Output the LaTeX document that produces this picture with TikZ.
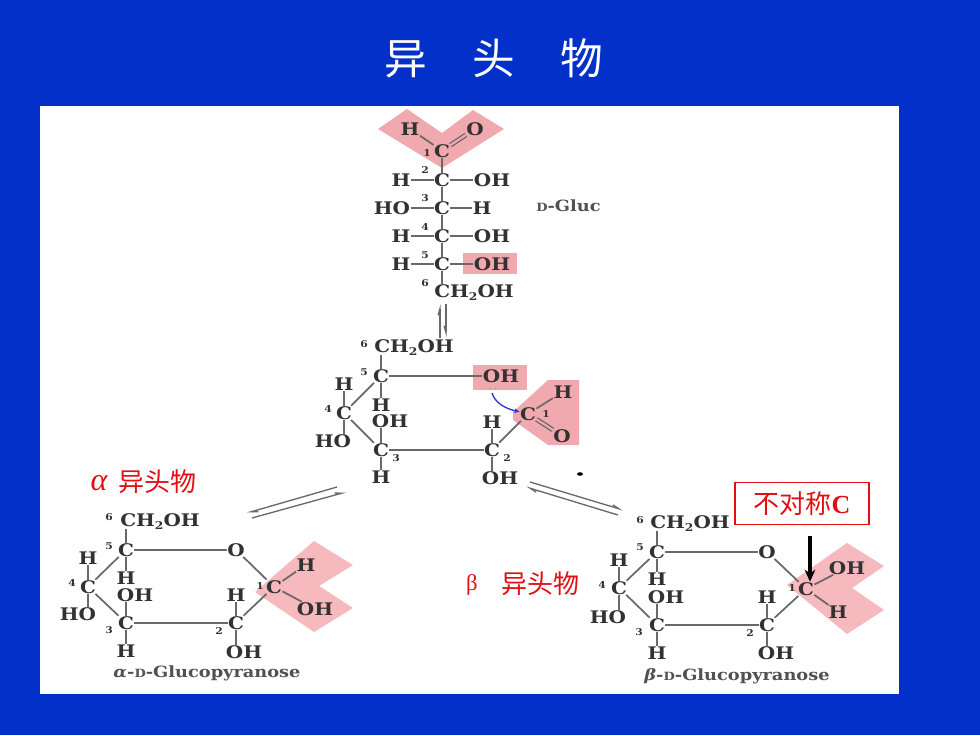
\documentclass[tikz,border=0pt]{standalone}
\usepackage{fontspec}
\usetikzlibrary{arrows.meta}
\newfontfamily\chemf[FakeStretch=1.15]{DejaVu Serif}
\newfontfamily\cjkf{Noto Sans CJK SC}
\newfontfamily\timesf{Liberation Serif}
\definecolor{bgblue}{RGB}{3,48,200}
\definecolor{pinkc}{RGB}{240,170,175}
\definecolor{pinkl}{RGB}{245,185,190}
\definecolor{inkc}{RGB}{50,50,50}
\definecolor{bondc}{RGB}{105,105,105}
\definecolor{redc}{RGB}{225,15,20}
\tikzset{
 x=0.75pt,y=-0.75pt,
 atom/.style={font=\chemf\bfseries\fontsize{13pt}{14pt}\selectfont,text=inkc,inner sep=0.4pt,outer sep=0pt,yshift=-0.6pt},
 numtext/.style={font=\chemf\bfseries\fontsize{7pt}{8pt}\selectfont,text=inkc,inner sep=0pt},
 captext/.style={font=\chemf\bfseries\fontsize{11.6pt}{12pt}\selectfont,text=inkc!85,inner sep=0pt},
 bond/.style={draw=bondc,line width=1.3pt},
 dbond/.style={draw=bondc,line width=1pt,double=pinkc,double distance=1.6pt},
 pinkfill/.style={fill=pinkc,draw=none},
 pinkfilll/.style={fill=pinkl,draw=none},
 harp/.style={draw=bondc,line width=1pt,-{Straight Barb[harpoon,length=5pt,width=3pt]}},
 harpb/.style={draw=bondc,line width=1pt,-{Straight Barb[harpoon,swap,length=5pt,width=3pt]}},
 redt/.style={font=\cjkf\fontsize{19.5pt}{20pt}\selectfont,text=redc,inner sep=0pt},
}
\newcommand{\At}[4]{\node[atom] (#1) at (#2,#3) {#4};}
\newcommand{\Nm}[4]{\node[numtext] (#1) at (#2,#3) {#4};}
\newcommand{\chtwo}{CH\raisebox{-2.2pt}{\fontsize{8pt}{8pt}\selectfont 2}OH}
\begin{document}
\begin{tikzpicture}
\useasboundingbox (0,0) rectangle (980,735);
\fill[bgblue] (0,0) rectangle (980,735);
\fill[white] (40,106) rectangle (899,694);
\node[font=\cjkf\fontsize{32pt}{34pt}\selectfont,text=white,inner sep=0pt] (title) at (494,58) {异\hspace{34pt}头\hspace{34pt}物};

% pink highlights
\fill[pinkfill] (378,129) -- (407,109) -- (442,133) -- (473,110) -- (504,129) -- (442,168) -- cycle;
\fill[pinkfill] (463,253) rectangle (517,274);
\fill[pinkfill] (473,365) rectangle (527,390);
\fill[pinkfill] (513,412) -- (548,380) -- (579,380) -- (579,445) -- (548,445) -- (513,420) -- cycle;
\fill[pinkfilll] (255,592) -- (314,541) -- (353,565) -- (319,586) -- (353,608) -- (314,632) -- cycle;
\fill[pinkfilll] (787,585) -- (847,543) -- (884,566) -- (852,588) -- (884,610) -- (847,634) -- cycle;

% open chain
\At{aH}{410}{128}{H}\At{aO}{475}{128}{O}\At{aC}{442}{150}{C}\Nm{an1}{427}{153}{1}
\At{bC}{442}{179}{C}\At{bH}{401}{179}{H}\At{bX}{492}{179}{OH}\Nm{an2}{425}{170}{2}
\At{cC}{442}{207}{C}\At{cX}{392}{207}{HO}\At{cH}{482}{207}{H}\Nm{an3}{425}{198}{3}
\At{dC}{442}{235}{C}\At{dH}{401}{235}{H}\At{dX}{492}{235}{OH}\Nm{an4}{425}{227}{4}
\At{eC}{442}{263}{C}\At{eH}{401}{263}{H}\At{eX}{492}{263}{OH}\Nm{an5}{425}{255}{5}
\At{fC}{474}{292}{\chtwo}\Nm{an6}{425}{283}{6}
\coordinate (fT) at (442,284);
\draw[bond] (aH) -- (aC);
\draw[dbond] (aC) -- (aO);
\draw[bond] (aC) -- (bC);
\draw[bond] (bC) -- (cC);
\draw[bond] (cC) -- (dC);
\draw[bond] (dC) -- (eC);
\draw[bond] (eC) -- (fT);
\foreach \r in {b,d,e}{\draw[bond] (\r H) -- (\r C);\draw[bond] (\r C) -- (\r X);}
\draw[bond] (cX) -- (cC);\draw[bond] (cC) -- (cH);
\node[captext,anchor=west] (gluc) at (536,206) {{\fontsize{8.5pt}{9pt}\selectfont D}-Gluc};
% equilibrium
\coordinate (q1a) at (440,338);\coordinate (q1b) at (440,304);
\coordinate (q2a) at (446,304);\coordinate (q2b) at (446,337);
\draw[harp] (q1a) -- (q1b);
\draw[harpb] (q2a) -- (q2b);

% middle ring
\At{mK}{414}{347}{\chtwo}\Nm{mn6}{364}{344}{6}
\coordinate (mK5) at (381,355);
\At{m5}{381}{375}{C}\Nm{mn5}{364}{372}{5}
\At{mOH}{501}{375}{OH}
\At{m4}{344}{412}{C}\Nm{mn4}{328}{409}{4}
\At{m4H}{344}{383}{H}\At{m4X}{333}{440}{HO}
\At{m5H}{381}{404}{H}
\At{m3X}{390}{420}{OH}\At{m3}{381}{449}{C}\At{m3H}{381}{476}{H}\Nm{mn3}{396}{458}{3}
\At{m2}{492}{449}{C}\At{m2H}{492}{421}{H}\At{m2X}{500}{477}{OH}\Nm{mn2}{507}{458}{2}
\At{m1}{528}{413}{C}\At{m1H}{563}{391}{H}\At{m1O}{562}{435}{O}\Nm{mn1}{546}{414}{1}
\draw[bond] (mK5) -- (m5);
\draw[bond] (m5) -- (mOH);
\draw[bond] (m5) -- (m4);
\draw[bond] (m4) -- (m3);
\draw[bond] (m3) -- (m2);
\draw[bond] (m2) -- (m1);
\draw[bond] (m5) -- (m5H);
\draw[bond] (m4) -- (m4H);
\draw[bond] (m4) -- (m4 |- m4X.north);
\draw[bond] (m3) -- (m3 |- m3X.south);
\draw[bond] (m3) -- (m3H);
\draw[bond] (m2) -- (m2H);
\draw[bond] (m2) -- (m2 |- m2X.north);
\draw[bond] (m1) -- (m1H);
\draw[dbond] (m1) -- (m1O);
\coordinate (mdots) at (492,393);
\draw[draw=blue!60!gray,line width=1pt,-{Stealth[length=4pt,width=3.5pt]}] (mdots) .. controls (495,402) and (503,408) .. (m1);
\fill[inkc!70] (490,389) circle (0.7);\fill[inkc!70] (495,389) circle (0.7);
\fill[black] (580,474) ellipse (3 and 1.8);

% alpha ring
\At{pK}{160}{521}{\chtwo}\Nm{pn6}{109}{517}{6}
\coordinate (pK5) at (126,529);
\At{p5}{126}{549}{C}\Nm{pn5}{109}{546}{5}
\At{pO}{236}{549}{O}
\At{p4}{88}{586}{C}\Nm{pn4}{72}{583}{4}
\At{p4H}{88}{557}{H}\At{p4X}{78}{613}{HO}
\At{p5H}{126}{577}{H}
\At{p3X}{135}{594}{OH}\At{p3}{126}{622}{C}\At{p3H}{126}{650}{H}\Nm{pn3}{109}{630}{3}
\At{p2}{236}{622}{C}\At{p2H}{236}{594}{H}\At{p2X}{244}{651}{OH}\Nm{pn2}{219}{631}{2}
\At{p1}{274}{586}{C}\Nm{pn1}{260}{586}{1}
\At{p1H}{306}{564}{H}\At{p1X}{315}{608}{OH}
\node[captext] (pcap) at (207,673) {{\itshape α}-{\fontsize{8.5pt}{9pt}\selectfont D}-Glucopyranose};
\draw[bond] (pK5) -- (p5);
\draw[bond] (p5) -- (pO);
\draw[bond] (pO) -- (p1);
\draw[bond] (p5) -- (p4);
\draw[bond] (p4) -- (p3);
\draw[bond] (p3) -- (p2);
\draw[bond] (p2) -- (p1);
\draw[bond] (p5) -- (p5H);
\draw[bond] (p4) -- (p4H);
\draw[bond] (p4) -- (p4 |- p4X.north);
\draw[bond] (p3) -- (p3 |- p3X.south);
\draw[bond] (p3) -- (p3H);
\draw[bond] (p2) -- (p2H);
\draw[bond] (p2) -- (p2 |- p2X.north);
\draw[bond] (p1) -- (p1H);
\draw[bond] (p1) -- (p1X);
\coordinate (r1a) at (337,487);\coordinate (r1b) at (247,513);
\coordinate (r2a) at (252,518);\coordinate (r2b) at (346,492);
\draw[harp] (r1a) -- (r1b);
\draw[harp] (r2a) -- (r2b);

% beta ring
\At{sK}{690}{523}{\chtwo}\Nm{sn6}{640}{520}{6}
\coordinate (sK5) at (657,531);
\At{s5}{657}{551}{C}\Nm{sn5}{640}{547}{5}
\At{sO}{767}{551}{O}
\At{s4}{619}{587}{C}\Nm{sn4}{602}{585}{4}
\At{s4H}{619}{559}{H}\At{s4X}{608}{616}{HO}
\At{s5H}{657}{578}{H}
\At{s3X}{666}{596}{OH}\At{s3}{657}{624}{C}\At{s3H}{657}{652}{H}\Nm{sn3}{639}{632}{3}
\At{s2}{767}{624}{C}\At{s2H}{767}{596}{H}\At{s2X}{776}{652}{OH}\Nm{sn2}{750}{633}{2}
\At{s1}{806}{588}{C}\Nm{sn1}{792}{588}{1}
\At{s1X}{847}{567}{OH}\At{s1H}{838}{611}{H}
\node[captext] (scap) at (737,676) {{\itshape β}-{\fontsize{8.5pt}{9pt}\selectfont D}-Glucopyranose};
\draw[bond] (sK5) -- (s5);
\draw[bond] (s5) -- (sO);
\draw[bond] (sO) -- (s1);
\draw[bond] (s5) -- (s4);
\draw[bond] (s4) -- (s3);
\draw[bond] (s3) -- (s2);
\draw[bond] (s2) -- (s1);
\draw[bond] (s5) -- (s5H);
\draw[bond] (s4) -- (s4H);
\draw[bond] (s4) -- (s4 |- s4X.north);
\draw[bond] (s3) -- (s3 |- s3X.south);
\draw[bond] (s3) -- (s3H);
\draw[bond] (s2) -- (s2H);
\draw[bond] (s2) -- (s2 |- s2X.north);
\draw[bond] (s1) -- (s1X);
\draw[bond] (s1) -- (s1H);
\coordinate (t1a) at (618,515);\coordinate (t1b) at (526,487);
\coordinate (t2a) at (530,482);\coordinate (t2b) at (623,510);
\draw[harp] (t1a) -- (t1b);
\draw[harp] (t2a) -- (t2b);

% annotations
\node[redt] (alab) at (157,482) {异头物};
\node[font=\timesf\itshape\fontsize{24pt}{24pt}\selectfont,text=redc,inner sep=0pt] (alpha) at (99,483) {α};
\node[redt] (blab) at (540,584) {异头物};
\node[font=\timesf\fontsize{17pt}{18pt}\selectfont,text=redc,inner sep=0pt] (beta) at (472,585) {β};
\node[draw=redc,line width=0.8pt,fill=white,minimum width=100.5pt,minimum height=32pt,inner sep=0pt,font=\cjkf\fontsize{19.5pt}{20pt}\selectfont,text=redc] (asym) at (802,503.5) {不对称{\timesf\bfseries C}\hspace{9pt}};
\coordinate (ktop) at (810,536);
\draw[black,line width=2.6pt,-{Stealth[length=9pt,width=8pt]}] (ktop) -- (ktop |- s1.north);
\end{tikzpicture}
\end{document}
